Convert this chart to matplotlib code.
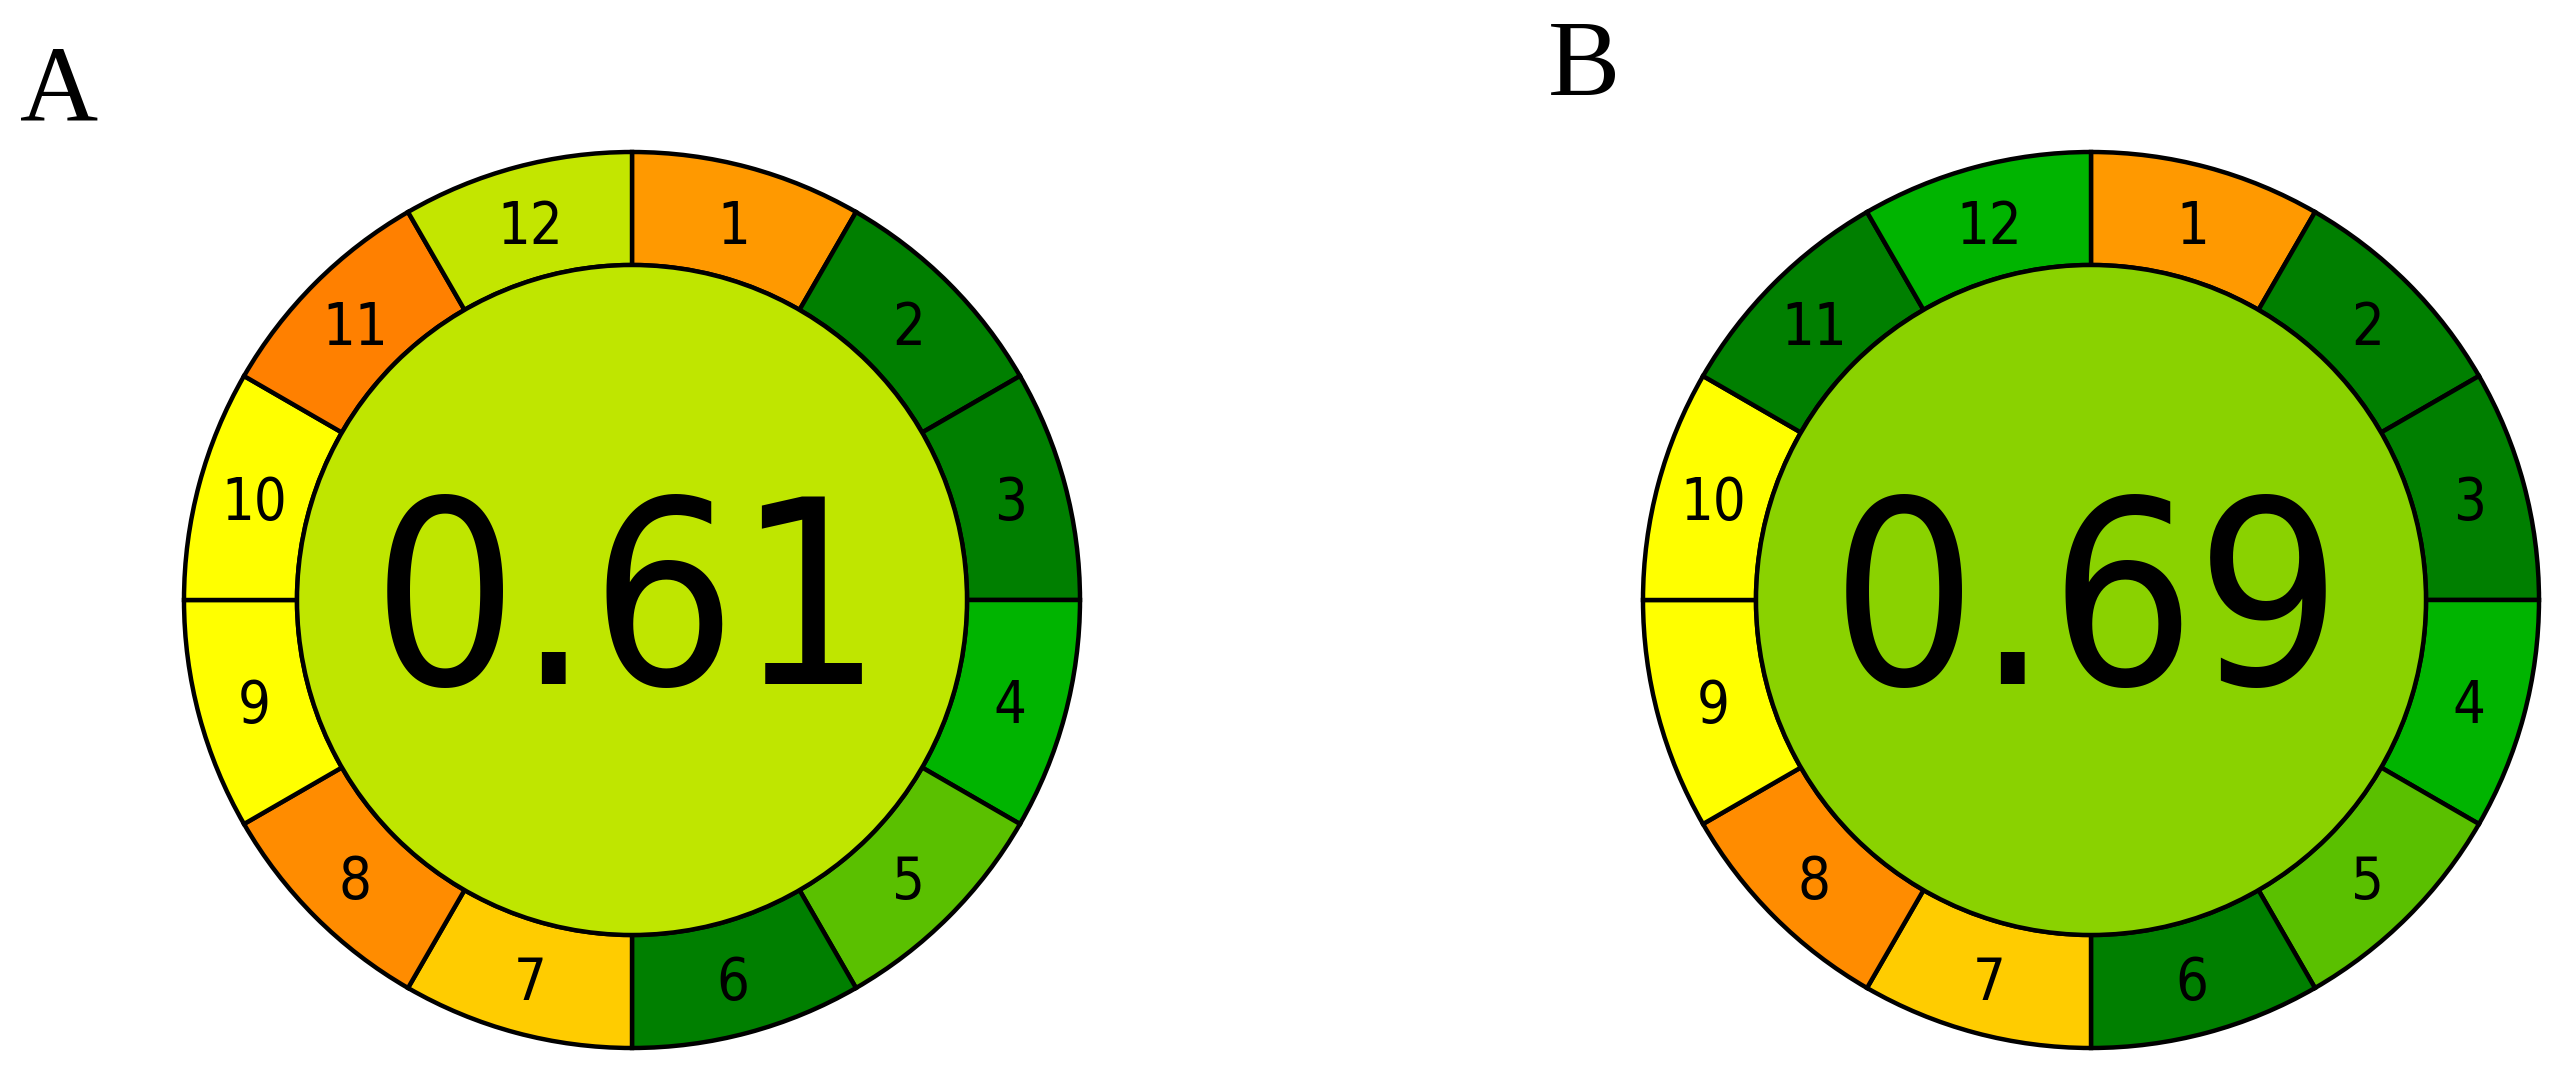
import matplotlib
matplotlib.use("Agg")
import matplotlib.pyplot as plt
from matplotlib.patches import Circle
from matplotlib.transforms import offset_copy

# ---------------- data ----------------
criteria = ["1", "2", "3", "4", "5", "6", "7", "8", "9", "10", "11", "12"]
weights = [1, 1, 1, 1, 1, 1, 1, 1, 1, 1, 1, 1]

panel_labels = ["A", "B"]
overall_scores = ["0.61", "0.69"]
center_colors = ["#BFE600", "#8AD200"]

colors_A = ["#FF9900", "#007F00", "#007F00", "#00B400", "#5AC000", "#007F00",
            "#FFCC00", "#FF8C00", "#FFFF00", "#FFFF00", "#FF8000", "#C3E600"]
colors_B = ["#FF9900", "#007F00", "#007F00", "#00B400", "#5AC000", "#007F00",
            "#FFCC00", "#FF8C00", "#FFFF00", "#FFFF00", "#007F00", "#00B400"]
segment_colors = [colors_A, colors_B]

# ---------------- layout ----------------
W, H = 2555, 1078
fig = plt.figure(figsize=(W / 100, H / 100), dpi=100)
ax = fig.add_axes([0, 0, 1, 1])
ax.set_xlim(0, W)
ax.set_ylim(0, H)
ax.set_aspect("equal")
ax.axis("off")

centers = [(632, H - 600), (2091, H - 600)]
R_out = 448
R_in = 335
lw = 3.2
label_fs = 41.5
big_fs = 184
big_px = big_fs * 100 / 72

panel_pos = [(20, H - 120), (1548, H - 95)]

for i in range(2):
    cx, cy = centers[i]
    wedges, texts = ax.pie(
        weights, colors=segment_colors[i], labels=criteria,
        startangle=90, counterclock=False, radius=R_out, center=(cx, cy),
        labeldistance=(R_out + R_in) / 2 / R_out,
        wedgeprops=dict(width=R_out - R_in, edgecolor="black", linewidth=lw),
        textprops=dict(ha="center", va="center", fontsize=label_fs,
                       family="DejaVu Sans", fontstretch="condensed", color="black"),
        frame=True,
    )
    for t in texts:
        t.set_transform(offset_copy(ax.transData, fig=fig, x=0, y=-0.09 * label_fs, units="points"))
    ax.add_patch(Circle((cx, cy), R_in, facecolor=center_colors[i],
                        edgecolor="black", linewidth=lw, zorder=3))
    ax.text(cx - 4, cy + 9 - 0.364 * big_px, overall_scores[i], ha="center", va="baseline",
            fontsize=big_fs, family="DejaVu Sans", fontstretch="condensed",
            color="black", zorder=4)
    ax.text(panel_pos[i][0], panel_pos[i][1], panel_labels[i], ha="left", va="baseline",
            fontsize=78, family="Liberation Serif", color="black")

ax.set_xlim(0, W)
ax.set_ylim(0, H)
ax.axis("off")
fig.savefig("out.png", dpi=100, facecolor="white")
